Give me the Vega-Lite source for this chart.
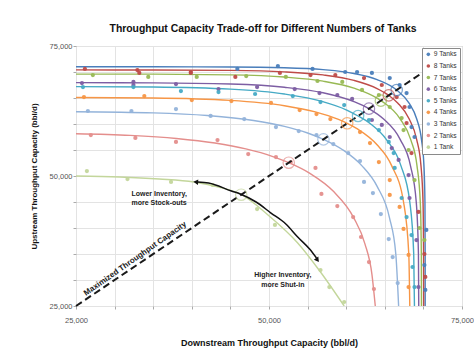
{
 "$schema": "https://vega.github.io/schema/vega-lite/v6.json",
 "width": 386, "height": 260,
 "autosize": {"type": "none"},
 "padding": {"left": 76, "top": 46, "right": 12, "bottom": 42},
 "background": "white",
 "config": {
  "font": "Liberation Sans",
  "view": {"stroke": "#b5b5b5", "strokeWidth": 1},
  "legend": {"orient": "top-right", "offset": 2, "padding": 3, "strokeColor": "#8a8a8a", "fillColor": "white", "labelFontSize": 6.7, "labelColor": "#333", "labelFont": "Liberation Sans", "symbolSize": 13, "symbolType": "circle", "rowPadding": 3.6, "labelOffset": 2, "symbolStrokeWidth": 0}
 },
 "title": {"text": "Throughput Capacity Trade-off for Different Numbers of Tanks", "fontSize": 10.4, "fontWeight": "bold", "font": "Liberation Sans", "color": "#111", "anchor": "middle", "dx": -6, "dy": 13, "frame": "group", "baseline": "alphabetic", "offset": 13},
 "resolve": {"scale": {"color": "shared"}, "legend": {"color": "independent"}},
 "datasets": {
  "curves": [
   {"series":"9 Tanks","x":25000,"y":71000},{"series":"9 Tanks","x":35000,"y":71000},{"series":"9 Tanks","x":45000,"y":70967},{"series":"9 Tanks","x":52000,"y":70817},{"series":"9 Tanks","x":57000,"y":70450},{"series":"9 Tanks","x":61000,"y":69715},{"series":"9 Tanks","x":64000,"y":68550},{"series":"9 Tanks","x":66540,"y":66540},{"series":"9 Tanks","x":68145,"y":64000},{"series":"9 Tanks","x":69125,"y":61000},{"series":"9 Tanks","x":69753,"y":57000},{"series":"9 Tanks","x":70071,"y":52000},{"series":"9 Tanks","x":70201,"y":45000},{"series":"9 Tanks","x":70228,"y":35000},{"series":"9 Tanks","x":70230,"y":25000},
   {"series":"8 Tanks","x":25000,"y":70400},{"series":"8 Tanks","x":35000,"y":70393},{"series":"8 Tanks","x":45000,"y":70315},{"series":"8 Tanks","x":52000,"y":70033},{"series":"8 Tanks","x":57000,"y":69445},{"series":"8 Tanks","x":61000,"y":68390},{"series":"8 Tanks","x":64000,"y":66820},{"series":"8 Tanks","x":65510,"y":65510},{"series":"8 Tanks","x":66700,"y":64000},{"series":"8 Tanks","x":68146,"y":61000},{"series":"8 Tanks","x":69132,"y":57000},{"series":"8 Tanks","x":69684,"y":52000},{"series":"8 Tanks","x":69950,"y":45000},{"series":"8 Tanks","x":70024,"y":35000},{"series":"8 Tanks","x":70030,"y":25000},
   {"series":"7 Tanks","x":25000,"y":69599},{"series":"7 Tanks","x":35000,"y":69584},{"series":"7 Tanks","x":45000,"y":69449},{"series":"7 Tanks","x":52000,"y":69031},{"series":"7 Tanks","x":57000,"y":68243},{"series":"7 Tanks","x":61000,"y":66902},{"series":"7 Tanks","x":64000,"y":64980},{"series":"7 Tanks","x":64490,"y":64490},{"series":"7 Tanks","x":65000,"y":64000},{"series":"7 Tanks","x":66985,"y":61000},{"series":"7 Tanks","x":68359,"y":57000},{"series":"7 Tanks","x":69168,"y":52000},{"series":"7 Tanks","x":69596,"y":45000},{"series":"7 Tanks","x":69734,"y":35000},{"series":"7 Tanks","x":69749,"y":25000},
   {"series":"6 Tanks","x":25000,"y":67948},{"series":"6 Tanks","x":35000,"y":67914},{"series":"6 Tanks","x":45000,"y":67681},{"series":"6 Tanks","x":52000,"y":67066},{"series":"6 Tanks","x":57000,"y":66008},{"series":"6 Tanks","x":61000,"y":64310},{"series":"6 Tanks","x":62950,"y":62950},{"series":"6 Tanks","x":64806,"y":61000},{"series":"6 Tanks","x":67002,"y":57000},{"series":"6 Tanks","x":68322,"y":52000},{"series":"6 Tanks","x":69074,"y":45000},{"series":"6 Tanks","x":69357,"y":35000},{"series":"6 Tanks","x":69397,"y":25000},
   {"series":"5 Tanks","x":25000,"y":67192},{"series":"5 Tanks","x":35000,"y":67115},{"series":"5 Tanks","x":45000,"y":66700},{"series":"5 Tanks","x":52000,"y":65765},{"series":"5 Tanks","x":57000,"y":64288},{"series":"5 Tanks","x":60000,"y":62736},{"series":"5 Tanks","x":61540,"y":61540},{"series":"5 Tanks","x":63170,"y":60000},{"series":"5 Tanks","x":65214,"y":57000},{"series":"5 Tanks","x":67086,"y":52000},{"series":"5 Tanks","x":68240,"y":45000},{"series":"5 Tanks","x":68747,"y":35000},{"series":"5 Tanks","x":68840,"y":25000},
   {"series":"4 Tanks","x":25000,"y":65090},{"series":"4 Tanks","x":35000,"y":65001},{"series":"4 Tanks","x":45000,"y":64538},{"series":"4 Tanks","x":52000,"y":63515},{"series":"4 Tanks","x":56000,"y":62325},{"series":"4 Tanks","x":59000,"y":60871},{"series":"4 Tanks","x":60130,"y":60130},{"series":"4 Tanks","x":61506,"y":59000},{"series":"4 Tanks","x":63997,"y":56000},{"series":"4 Tanks","x":65885,"y":52000},{"series":"4 Tanks","x":67427,"y":45000},{"series":"4 Tanks","x":68107,"y":35000},{"series":"4 Tanks","x":68236,"y":25000},
   {"series":"3 Tanks","x":25000,"y":62362},{"series":"3 Tanks","x":35000,"y":62135},{"series":"3 Tanks","x":42000,"y":61628},{"series":"3 Tanks","x":48000,"y":60676},{"series":"3 Tanks","x":52000,"y":59548},{"series":"3 Tanks","x":55000,"y":58267},{"series":"3 Tanks","x":57050,"y":57050},{"series":"3 Tanks","x":59585,"y":55000},{"series":"3 Tanks","x":62015,"y":52000},{"series":"3 Tanks","x":64005,"y":48000},{"series":"3 Tanks","x":65602,"y":42000},{"series":"3 Tanks","x":66425,"y":35000},{"series":"3 Tanks","x":66790,"y":25000},
   {"series":"2 Tanks","x":25000,"y":58116},{"series":"2 Tanks","x":32000,"y":57808},{"series":"2 Tanks","x":38000,"y":57222},{"series":"2 Tanks","x":43000,"y":56335},{"series":"2 Tanks","x":47000,"y":55205},{"series":"2 Tanks","x":50500,"y":53742},{"series":"2 Tanks","x":52560,"y":52560},{"series":"2 Tanks","x":55302,"y":50500},{"series":"2 Tanks","x":58375,"y":47000},{"series":"2 Tanks","x":60965,"y":42000},{"series":"2 Tanks","x":62416,"y":37000},{"series":"2 Tanks","x":63341,"y":31000},{"series":"2 Tanks","x":63768,"y":25000},
   {"series":"1 Tank","x":25000,"y":50000},{"series":"1 Tank","x":30640,"y":49810},{"series":"1 Tank","x":35770,"y":49420},{"series":"1 Tank","x":40260,"y":48850},{"series":"1 Tank","x":43460,"y":47880},{"series":"1 Tank","x":46280,"y":46540},{"series":"1 Tank","x":49870,"y":42500},{"series":"1 Tank","x":53720,"y":37120},{"series":"1 Tank","x":56670,"y":31540},{"series":"1 Tank","x":59740,"y":25000}
  ],
  "pts": [
   {"series":"9 Tanks","x":51150,"y":71150},{"series":"9 Tanks","x":45900,"y":70580},{"series":"9 Tanks","x":55640,"y":70580},{"series":"9 Tanks","x":59870,"y":70000},{"series":"9 Tanks","x":61410,"y":70000},{"series":"9 Tanks","x":63330,"y":69810},{"series":"9 Tanks","x":65640,"y":68840},{"series":"9 Tanks","x":66920,"y":67500},{"series":"9 Tanks","x":67820,"y":65960},{"series":"9 Tanks","x":68200,"y":63270},{"series":"9 Tanks","x":68460,"y":59420},{"series":"9 Tanks","x":68850,"y":57500},{"series":"9 Tanks","x":70380,"y":39620},{"series":"9 Tanks","x":70130,"y":32880},{"series":"9 Tanks","x":70250,"y":28080},
   {"series":"8 Tanks","x":26150,"y":70580},{"series":"8 Tanks","x":32950,"y":70380},{"series":"8 Tanks","x":33200,"y":69810},{"series":"8 Tanks","x":39870,"y":70000},{"series":"8 Tanks","x":39870,"y":69810},{"series":"8 Tanks","x":45640,"y":69040},{"series":"8 Tanks","x":51410,"y":69810},{"series":"8 Tanks","x":55380,"y":69420},{"series":"8 Tanks","x":58590,"y":69420},{"series":"8 Tanks","x":62310,"y":68840},{"series":"8 Tanks","x":64610,"y":67500},{"series":"8 Tanks","x":66540,"y":65190},{"series":"8 Tanks","x":67560,"y":63270},{"series":"8 Tanks","x":67820,"y":60190},{"series":"8 Tanks","x":68460,"y":54420},{"series":"8 Tanks","x":69360,"y":43080},{"series":"8 Tanks","x":70130,"y":35000},{"series":"8 Tanks","x":70250,"y":30580},
   {"series":"7 Tanks","x":27180,"y":69420},{"series":"7 Tanks","x":34360,"y":69040},{"series":"7 Tanks","x":40640,"y":69040},{"series":"7 Tanks","x":47050,"y":69230},{"series":"7 Tanks","x":52180,"y":69040},{"series":"7 Tanks","x":56280,"y":68270},{"series":"7 Tanks","x":59490,"y":68080},{"series":"7 Tanks","x":62050,"y":66540},{"series":"7 Tanks","x":64230,"y":65570},{"series":"7 Tanks","x":65640,"y":63270},{"series":"7 Tanks","x":67180,"y":61150},{"series":"7 Tanks","x":67430,"y":58840},{"series":"7 Tanks","x":68080,"y":55000},{"series":"7 Tanks","x":68850,"y":49230},{"series":"7 Tanks","x":69490,"y":40000},{"series":"7 Tanks","x":70130,"y":37690},
   {"series":"6 Tanks","x":25770,"y":67880},{"series":"6 Tanks","x":32440,"y":68080},{"series":"6 Tanks","x":32440,"y":67500},{"series":"6 Tanks","x":37950,"y":67690},{"series":"6 Tanks","x":43460,"y":66730},{"series":"6 Tanks","x":48460,"y":67110},{"series":"6 Tanks","x":53330,"y":66730},{"series":"6 Tanks","x":56540,"y":65960},{"series":"6 Tanks","x":58850,"y":65570},{"series":"6 Tanks","x":60770,"y":64810},{"series":"6 Tanks","x":63330,"y":60770},{"series":"6 Tanks","x":64610,"y":59810},{"series":"6 Tanks","x":65640,"y":57500},{"series":"6 Tanks","x":65900,"y":55380},{"series":"6 Tanks","x":66790,"y":53080},{"series":"6 Tanks","x":68080,"y":50190},{"series":"6 Tanks","x":68200,"y":45770},{"series":"6 Tanks","x":69100,"y":37690},{"series":"6 Tanks","x":69360,"y":28650},
   {"series":"5 Tanks","x":25900,"y":67110},{"series":"5 Tanks","x":32440,"y":67110},{"series":"5 Tanks","x":38590,"y":66340},{"series":"5 Tanks","x":43460,"y":66150},{"series":"5 Tanks","x":48200,"y":65770},{"series":"5 Tanks","x":53080,"y":65380},{"series":"5 Tanks","x":56670,"y":64230},{"series":"5 Tanks","x":59740,"y":63650},{"series":"5 Tanks","x":62950,"y":60770},{"series":"5 Tanks","x":64230,"y":58840},{"series":"5 Tanks","x":65510,"y":56540},{"series":"5 Tanks","x":66150,"y":54420},{"series":"5 Tanks","x":66280,"y":51540},{"series":"5 Tanks","x":67180,"y":45770},{"series":"5 Tanks","x":67820,"y":42110},{"series":"5 Tanks","x":68460,"y":38650},{"series":"5 Tanks","x":68590,"y":32500},{"series":"5 Tanks","x":68850,"y":28650},
   {"series":"4 Tanks","x":26030,"y":65190},{"series":"4 Tanks","x":33850,"y":65380},{"series":"4 Tanks","x":40000,"y":64610},{"series":"4 Tanks","x":45130,"y":64420},{"series":"4 Tanks","x":50260,"y":64040},{"series":"4 Tanks","x":53970,"y":62690},{"series":"4 Tanks","x":56150,"y":61920},{"series":"4 Tanks","x":57950,"y":60960},{"series":"4 Tanks","x":61790,"y":58460},{"series":"4 Tanks","x":63080,"y":56340},{"series":"4 Tanks","x":64230,"y":52690},{"series":"4 Tanks","x":65640,"y":49230},{"series":"4 Tanks","x":65640,"y":46350},{"series":"4 Tanks","x":66920,"y":44040},{"series":"4 Tanks","x":67430,"y":39810},{"series":"4 Tanks","x":68080,"y":34810},{"series":"4 Tanks","x":68080,"y":28650},
   {"series":"3 Tanks","x":26540,"y":62500},{"series":"3 Tanks","x":32180,"y":62500},{"series":"3 Tanks","x":37950,"y":62880},{"series":"3 Tanks","x":42440,"y":61540},{"series":"3 Tanks","x":46790,"y":60960},{"series":"3 Tanks","x":50900,"y":59420},{"series":"3 Tanks","x":53850,"y":58650},{"series":"3 Tanks","x":56150,"y":57880},{"series":"3 Tanks","x":58330,"y":56150},{"series":"3 Tanks","x":60260,"y":54420},{"series":"3 Tanks","x":61790,"y":52880},{"series":"3 Tanks","x":62310,"y":48850},{"series":"3 Tanks","x":63460,"y":46730},{"series":"3 Tanks","x":64490,"y":42690},{"series":"3 Tanks","x":65510,"y":37880},{"series":"3 Tanks","x":66020,"y":34420},{"series":"3 Tanks","x":66670,"y":29420},
   {"series":"2 Tanks","x":26920,"y":57880},{"series":"2 Tanks","x":32690,"y":57310},{"series":"2 Tanks","x":37950,"y":56540},{"series":"2 Tanks","x":43330,"y":56920},{"series":"2 Tanks","x":47310,"y":54230},{"series":"2 Tanks","x":50900,"y":53650},{"series":"2 Tanks","x":52820,"y":52690},{"series":"2 Tanks","x":56020,"y":51540},{"series":"2 Tanks","x":56790,"y":46540},{"series":"2 Tanks","x":58850,"y":44230},{"series":"2 Tanks","x":60900,"y":42110},{"series":"2 Tanks","x":61920,"y":38270},{"series":"2 Tanks","x":62950,"y":33460},{"series":"2 Tanks","x":63590,"y":28270},
   {"series":"1 Tank","x":26410,"y":50960},{"series":"1 Tank","x":31670,"y":49420},{"series":"1 Tank","x":37310,"y":48850},{"series":"1 Tank","x":42690,"y":48270},{"series":"1 Tank","x":48460,"y":43650},{"series":"1 Tank","x":50770,"y":40580},{"series":"1 Tank","x":56670,"y":31920},{"series":"1 Tank","x":57820,"y":28650},{"series":"1 Tank","x":59740,"y":25770}
  ],
  "circ": [
   {"series":"9 Tanks","x":66540,"y":66540},{"series":"8 Tanks","x":65510,"y":65510},{"series":"7 Tanks","x":64490,"y":64490},{"series":"6 Tanks","x":62950,"y":62950},{"series":"5 Tanks","x":61540,"y":61540},{"series":"4 Tanks","x":60130,"y":60130},{"series":"3 Tanks","x":57050,"y":57050},{"series":"2 Tanks","x":52560,"y":52560},{"series":"1 Tank","x":46400,"y":46400}
  ],
  "diag": [{"x":25000,"y":25000},{"x":70000,"y":70000}],
  "arrow": [{"x":40770,"y":48850},{"x":42180,"y":48650},{"x":45130,"y":47110},{"x":46280,"y":46540},{"x":48330,"y":45000},{"x":50260,"y":42880},{"x":52180,"y":40770},{"x":53720,"y":38270},{"x":55260,"y":35960},{"x":56150,"y":34230}],
  "headStart": [{"x":40510,"y":48850}],
  "headEnd": [{"x":56280,"y":33850}],
  "notes": [{"t":"Lower Inventory,\nmore Stock-outs","x":35770,"y":46540},{"t":"Higher Inventory,\nmore Shut-in","x":51790,"y":30870}],
  "diagLabel": [{"t":"Maximized Throughput Capacity","x":32690,"y":34040}]
 },
 "encoding": {
  "x": {"field": "x", "type": "quantitative", "scale": {"domain": [25000, 75000], "nice": false, "zero": false},
   "axis": {"values": [25000,30000,35000,40000,45000,50000,55000,60000,65000,70000,75000], "labelExpr": "datum.value % 25000 === 0 ? format(datum.value, ',') : ''", "title": "Downstream Throughput Capacity (bbl/d)", "titleFontSize": 9, "titleFontWeight": "bold", "titleColor": "#111", "labelFontSize": 7.5, "labelColor": "#555", "gridColor": "#e3e3e3", "domain": false, "tickColor": "#aaa", "tickSize": 3, "labelPadding": 7, "titlePadding": 15, "labelFlush": false}},
  "y": {"field": "y", "type": "quantitative", "scale": {"domain": [25000, 75000], "nice": false, "zero": false},
   "axis": {"values": [25000,30000,35000,40000,45000,50000,55000,60000,65000,70000,75000], "labelExpr": "datum.value % 25000 === 0 ? format(datum.value, ',') : ''", "title": "Upstream Throughput Capacity (bbl/d)", "titleFontSize": 8, "titleFontWeight": "bold", "titleColor": "#111", "labelFontSize": 7.5, "labelColor": "#555", "gridColor": "#e3e3e3", "domain": false, "tickColor": "#aaa", "tickSize": 3, "labelPadding": 1, "titlePadding": 11, "labelFlush": false}}
 },
 "layer": [
  {"data": {"name": "curves"}, "mark": {"type": "line", "interpolate": "monotone", "strokeWidth": 1.4, "clip": true},
   "encoding": {"color": {"field": "series", "type": "nominal", "scale": {"domain": ["9 Tanks","8 Tanks","7 Tanks","6 Tanks","5 Tanks","4 Tanks","3 Tanks","2 Tanks","1 Tank"], "range": ["#4a7ebb","#be4b48","#98b954","#7d5ea3","#46aac5","#f79646","#93b3da","#e48e8c","#c3d69b"]}, "legend": null}}},
  {"data": {"name": "pts"}, "mark": {"type": "point", "shape": "circle", "filled": true, "size": 18, "opacity": 0.95},
   "encoding": {"color": {"field": "series", "type": "nominal", "scale": {"domain": ["9 Tanks","8 Tanks","7 Tanks","6 Tanks","5 Tanks","4 Tanks","3 Tanks","2 Tanks","1 Tank"], "range": ["#4a7ebb","#be4b48","#98b954","#7d5ea3","#46aac5","#f79646","#93b3da","#e48e8c","#c3d69b"]}, "legend": {"title": null}}}},
  {"data": {"name": "diag"}, "mark": {"type": "line", "color": "#1a1a1a", "strokeWidth": 2, "strokeDash": [7, 4]}},
  {"data": {"name": "circ"}, "mark": {"type": "point", "shape": "circle", "filled": false, "size": 130, "strokeWidth": 1.2},
   "encoding": {"color": {"field": "series", "type": "nominal", "scale": {"domain": ["9 Tanks","8 Tanks","7 Tanks","6 Tanks","5 Tanks","4 Tanks","3 Tanks","2 Tanks","1 Tank"], "range": ["#4a7ebb","#be4b48","#98b954","#7d5ea3","#46aac5","#f79646","#93b3da","#e48e8c","#c3d69b"]}, "legend": null}}},
  {"data": {"name": "arrow"}, "mark": {"type": "line", "interpolate": "monotone", "color": "#111", "strokeWidth": 1.5}},
  {"data": {"name": "headStart"}, "mark": {"type": "point", "shape": "triangle-left", "filled": true, "size": 30, "color": "#111", "angle": 4, "opacity": 1}},
  {"data": {"name": "headEnd"}, "mark": {"type": "point", "shape": "triangle-right", "filled": true, "size": 30, "color": "#111", "angle": 54, "opacity": 1}},
  {"data": {"name": "notes"}, "mark": {"type": "text", "fontSize": 7, "fontWeight": "bold", "lineBreak": "\n", "lineHeight": 9.5, "align": "center", "baseline": "middle", "color": "#222"},
   "encoding": {"text": {"field": "t"}}},
  {"data": {"name": "diagLabel"}, "mark": {"type": "text", "fontSize": 8, "fontWeight": "bold", "angle": 325, "align": "center", "baseline": "middle", "color": "#222"},
   "encoding": {"text": {"field": "t"}}}
 ]
}
